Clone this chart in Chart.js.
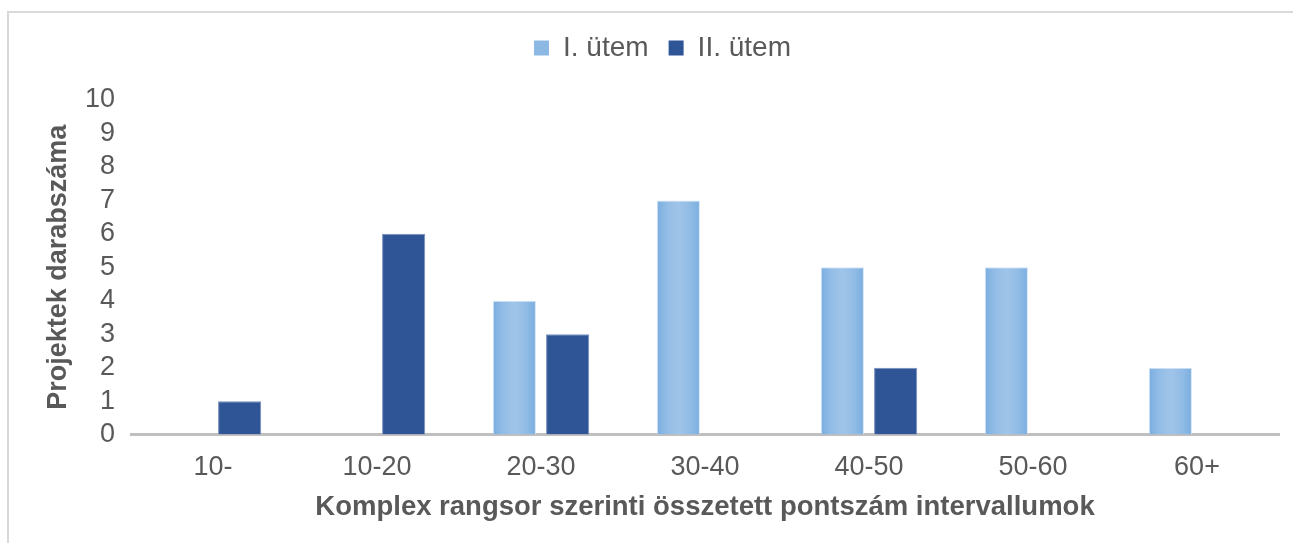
<!DOCTYPE html>
<html>
<head>
<meta charset="utf-8">
<script src="https://cdn.jsdelivr.net/npm/chart.js@4.4.1/dist/chart.umd.min.js"></script>
<style>
    html, body { margin: 0; padding: 0; background: #fff; overflow: hidden; }
    #frame {
        position: absolute; left: 7px; top: 11px;
        width: 1400px; height: 600px;
        border-left: 2px solid #d9d9d9; border-top: 2px solid #d9d9d9;
    }
    #wrap { position: absolute; left: 0; top: 0; width: 1293px; height: 543px; }
</style>
</head>
<body>
<div id="frame"></div>
<div id="wrap"><canvas id="projekt-bar"></canvas></div>
<script>
const intervals = ["10-", "10-20", "20-30", "30-40", "40-50", "50-60", "60+"];
const utem1 = [0, 0, 4, 7, 5, 5, 2];
const utem2 = [1, 6, 3, 0, 2, 0, 0];
const series_names = ["I. ütem", "II. ütem"];
const y_ticks = [0, 1, 2, 3, 4, 5, 6, 7, 8, 9, 10];

const text_colour = "#595959";
const font_family = "'Liberation Sans', Arial, sans-serif";
const cat_pct = 0.65;
const bar_pct = 0.81;

// light bars get a soft horizontal shading, darker at the edges
function shadedFill(context) {
    const chart = context.chart;
    const xs = chart.scales.x;
    if (!xs || !chart.chartArea || context.dataIndex === undefined) return "#8db8e3";
    const cat_w = xs.width / intervals.length;
    const slot = cat_w * cat_pct / 2;
    const centre = xs.getPixelForValue(context.dataIndex) - slot / 2;
    const half = slot * bar_pct / 2;
    const g = chart.ctx.createLinearGradient(centre - half, 0, centre + half, 0);
    g.addColorStop(0, "#7aaee0");
    g.addColorStop(0.25, "#93bde6");
    g.addColorStop(0.5, "#a0c4e9");
    g.addColorStop(0.75, "#93bde6");
    g.addColorStop(1, "#7aaee0");
    return g;
}

// extra room between the legend and the plot, legend nudged right
const legendGap = {
    id: "legendGap",
    afterInit(chart) {
        const fit = chart.legend.fit;
        chart.legend.fit = function () {
            fit.call(this);
            this.height += 28;
        };
    },
    afterLayout(chart) {
        chart.legend.left += 23;
        chart.legend.right += 23;
    }
};

const ctx = document.getElementById("projekt-bar").getContext("2d");
new Chart(ctx, {
    type: "bar",
    data: {
        labels: intervals,
        datasets: [{
            label: series_names[0],
            data: utem1,
            backgroundColor: shadedFill,
            borderColor: "#d6e5f5",
            borderWidth: 1,
            categoryPercentage: cat_pct,
            barPercentage: bar_pct
        },
        {
            label: series_names[1],
            data: utem2,
            backgroundColor: "#2f5597",
            borderColor: "#7891bf",
            borderWidth: 1,
            categoryPercentage: cat_pct,
            barPercentage: bar_pct
        }]
    },
    options: {
        responsive: true,
        maintainAspectRatio: false,
        animation: false,
        layout: {
            padding: { top: 14, right: 14, bottom: 19, left: 0 }
        },
        plugins: {
            tooltip: { enabled: false },
            legend: {
                position: "top",
                labels: {
                    color: text_colour,
                    font: { family: font_family, size: 28 },
                    boxWidth: 15,
                    boxHeight: 15,
                    padding: 20,
                    generateLabels: (chart) => chart.data.datasets.map((ds, i) => ({
                        text: ds.label,
                        fillStyle: i === 0 ? "#8db8e3" : "#2f5597",
                        strokeStyle: "#fff",
                        lineWidth: 0,
                        fontColor: text_colour,
                        datasetIndex: i
                    }))
                }
            }
        },
        scales: {
            x: {
                grid: { display: false },
                border: { display: true, color: "#bfbfbf", width: 3 },
                ticks: {
                    color: text_colour,
                    font: { family: font_family, size: 27 },
                    padding: 9
                },
                title: {
                    display: true,
                    text: "Komplex rangsor szerinti összetett pontszám intervallumok",
                    color: text_colour,
                    font: { family: font_family, size: 27.5, weight: "bold" },
                    padding: { top: -2, bottom: 0 }
                }
            },
            y: {
                min: 0,
                max: 10,
                afterBuildTicks: (scale) => {
                    scale.ticks = y_ticks.map(v => ({ value: v }));
                },
                afterFit: (scale) => { scale.width = 131; },
                grid: { display: false },
                border: { display: false },
                ticks: {
                    color: text_colour,
                    font: { family: font_family, size: 27 },
                    padding: 8,
                    autoSkip: false
                },
                title: {
                    display: true,
                    text: "Projektek darabszáma",
                    color: text_colour,
                    font: { family: font_family, size: 27, weight: "bold" },
                    padding: { top: 42, bottom: 0 }
                }
            }
        }
    },
    plugins: [legendGap]
});
</script>
</body>
</html>
